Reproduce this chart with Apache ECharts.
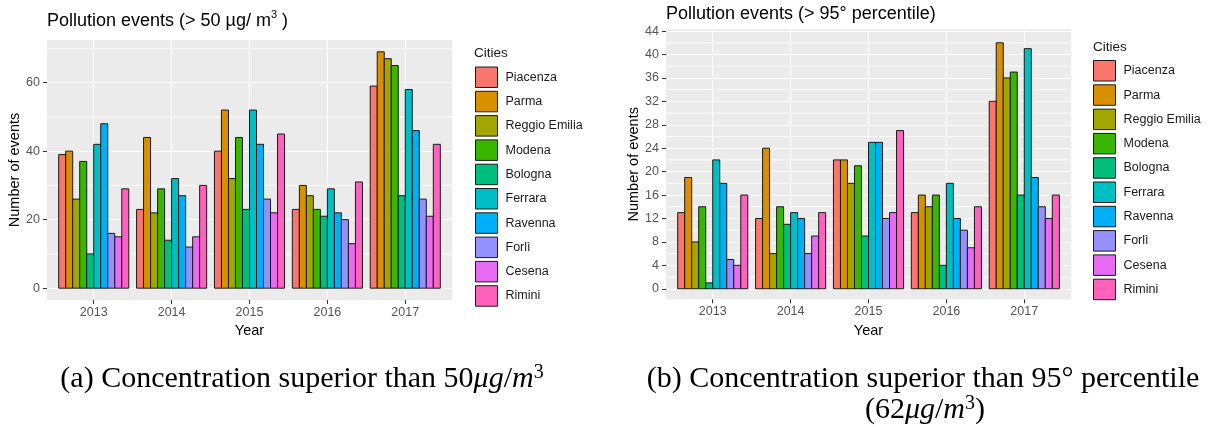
<!DOCTYPE html>
<html>
<head>
<meta charset="utf-8">
<script src="https://cdn.jsdelivr.net/npm/echarts@6/dist/echarts.min.js"></script>
<style>
  html, body { margin: 0; padding: 0; background: #ffffff; }
  #chart { width: 1213px; height: 427px; }
</style>
</head>
<body>
<div id="chart"></div>
<script>
// Categories
const years = ['2013', '2014', '2015', '2016', '2017'];
const cities = ['Piacenza', 'Parma', 'Reggio Emilia', 'Modena', 'Bologna',
                'Ferrara', 'Ravenna', 'Forlì', 'Cesena', 'Rimini'];
const cityColors = ['#F8766D', '#D89000', '#A3A500', '#39B600', '#00BF7D',
                    '#00BFC4', '#00B0F6', '#9590FF', '#E76BF3', '#FF62BC'];

// Days above 50 µg/m3, per city, 2013..2017
const piacenza50 = [39, 23, 40, 23, 59];
const parma50    = [40, 44, 52, 30, 69];
const reggio50   = [26, 22, 32, 27, 67];
const modena50   = [37, 29, 44, 23, 65];
const bologna50  = [10, 14, 23, 21, 27];
const ferrara50  = [42, 32, 52, 29, 58];
const ravenna50  = [48, 27, 42, 22, 46];
const forli50    = [16, 12, 26, 20, 26];
const cesena50   = [15, 15, 22, 13, 21];
const rimini50   = [29, 30, 45, 31, 42];

// Days above the 95th percentile (62 µg/m3), per city, 2013..2017
const piacenzaP95 = [13, 12, 22, 13, 32];
const parmaP95    = [19, 24, 22, 16, 42];
const reggioP95   = [8, 6, 18, 14, 36];
const modenaP95   = [14, 14, 21, 16, 37];
const bolognaP95  = [1, 11, 9, 4, 16];
const ferraraP95  = [22, 13, 25, 18, 41];
const ravennaP95  = [18, 12, 25, 12, 19];
const forliP95    = [5, 6, 12, 10, 14];
const cesenaP95   = [4, 9, 13, 7, 12];
const riminiP95   = [16, 13, 27, 14, 16];

// Tick values
const yTicks50 = [0, 20, 40, 60];
const yMinor50 = [10, 30, 50, 70];
const yTicksP95 = [0, 4, 8, 12, 16, 20, 24, 28, 32, 36, 40, 44];
const yMinorP95 = [2, 6, 10, 14, 18, 22, 26, 30, 34, 38, 42];

const series50 = [piacenza50, parma50, reggio50, modena50, bologna50,
                  ferrara50, ravenna50, forli50, cesena50, rimini50];
const seriesP95 = [piacenzaP95, parmaP95, reggioP95, modenaP95, bolognaP95,
                   ferraraP95, ravennaP95, forliP95, cesenaP95, riminiP95];

const SANS = "'Liberation Sans', Arial, sans-serif";
const SERIF = "'Liberation Serif', 'Times New Roman', serif";
const yearIndex = years.map((_, i) => i);

// Dodged bar: each year slot is 0.9 wide, split evenly among the cities
function dodgedBar(cityIdx) {
  return function (params, api) {
    const slot = 0.9 / cities.length;
    const center = api.value(0) - 0.45 + slot * (cityIdx + 0.5);
    const p0 = api.coord([center - slot / 2, api.value(1)]);
    const p1 = api.coord([center + slot / 2, 0]);
    return {
      type: 'rect',
      shape: { x: p0[0], y: p0[1], width: p1[0] - p0[0], height: p1[1] - p0[1] },
      style: api.style({ stroke: '#1a1a1a', lineWidth: 1 })
    };
  };
}

// Thin horizontal guide across the whole panel at a minor break
function minorGridLine(params, api) {
  const cs = params.coordSys;
  const y = api.coord([0, api.value(0)])[1];
  return {
    type: 'line',
    shape: { x1: cs.x, y1: y, x2: cs.x + cs.width, y2: y },
    style: { stroke: '#ffffff', lineWidth: 0.8 }
  };
}

function xAxisFor(gridIndex) {
  return {
    type: 'value', gridIndex: gridIndex, min: -0.6, max: 4.6, position: 'bottom',
    axisLine: { show: false, onZero: false },
    axisTick: { show: true, customValues: yearIndex, length: 4, lineStyle: { color: '#333333', width: 1 } },
    axisLabel: { customValues: yearIndex, formatter: v => years[Math.round(v)],
                 color: '#555555', fontSize: 12.5, fontFamily: SANS, margin: 6 },
    splitLine: { show: true, lineStyle: { color: '#ffffff', width: 1.1 } },
    name: 'Year', nameLocation: 'middle', nameGap: 22,
    nameTextStyle: { fontSize: 14.5, color: '#000000', fontFamily: SANS }
  };
}

function yAxisFor(gridIndex, min, max, majors) {
  return {
    type: 'value', gridIndex: gridIndex, min: min, max: max, position: 'left',
    axisLine: { show: false, onZero: false },
    axisTick: { show: true, customValues: majors, length: 4, lineStyle: { color: '#333333', width: 1 } },
    axisLabel: { customValues: majors, color: '#555555', fontSize: 12.5, fontFamily: SANS, margin: 7 },
    splitLine: { show: true, lineStyle: { color: '#ffffff', width: 1.1 } },
    name: 'Number of events', nameLocation: 'middle', nameGap: 24,
    nameTextStyle: { fontSize: 14.5, color: '#000000', fontFamily: SANS }
  };
}

function seriesFor(gridIndex, table, minors) {
  const guides = {
    type: 'custom',
    name: 'minor-grid-' + gridIndex,
    xAxisIndex: gridIndex,
    yAxisIndex: gridIndex,
    data: minors.map(v => [v]),
    encode: { y: 0 },
    renderItem: minorGridLine,
    silent: true,
    z: 1
  };
  const bars = cities.map((city, c) => ({
    type: 'custom',
    name: city,
    xAxisIndex: gridIndex,
    yAxisIndex: gridIndex,
    data: table[c].map((v, i) => [i, v]),
    encode: { x: 0, y: 1 },
    renderItem: dodgedBar(c),
    itemStyle: { color: cityColors[c], borderColor: '#1a1a1a', borderWidth: 1 },
    z: 3
  }));
  return [guides, ...bars];
}

function legendAt(left, top) {
  return {
    orient: 'vertical', left: left, top: top, padding: 0,
    data: cities, icon: 'rect',
    itemWidth: 22, itemHeight: 20.5, itemGap: 2.8,
    selectedMode: false,
    itemStyle: { borderColor: '#1a1a1a', borderWidth: 1 },
    textStyle: { fontSize: 12.5, color: '#1a1a1a', fontFamily: SANS, padding: [0, 0, 0, 3] }
  };
}

const titleStyle = {
  fontSize: 18, fontWeight: 'normal', color: '#000000', fontFamily: SANS, lineHeight: 24,
  rich: { sup: { fontSize: 11, fontFamily: SANS, color: '#000000', verticalAlign: 'top', lineHeight: 24 } }
};
const legendTitleStyle = { fontSize: 13.5, fontWeight: 'normal', color: '#1a1a1a', fontFamily: SANS, lineHeight: 16 };

const capRich = {
  it: { fontSize: 30, fontFamily: SERIF, fontStyle: 'italic', fill: '#000000', lineHeight: 32 },
  sup: { fontSize: 20, fontFamily: SERIF, fill: '#000000', verticalAlign: 'top', lineHeight: 32 }
};
function caption(x, y, text) {
  return {
    type: 'text', x: x, y: y,
    style: { text: text, fontSize: 30, fontFamily: SERIF, fill: '#000000',
             align: 'center', verticalAlign: 'middle', lineHeight: 32, rich: capRich }
  };
}

const option = {
  animation: false,
  backgroundColor: '#ffffff',
  title: [
    { text: 'Pollution events (> 50 µg/ m{sup|3} )', left: 47, top: 9, padding: 0, textStyle: titleStyle },
    { text: 'Pollution events (> 95° percentile)', left: 666, top: 2, padding: 0, textStyle: titleStyle },
    { text: 'Cities', left: 474, top: 45, padding: 0, textStyle: legendTitleStyle },
    { text: 'Cities', left: 1093, top: 39, padding: 0, textStyle: legendTitleStyle }
  ],
  legend: [legendAt(475, 66.5), legendAt(1093, 60)],
  grid: [
    { left: 47, top: 40, width: 405, height: 260, show: true, backgroundColor: '#EBEBEB', borderWidth: 0 },
    { left: 666, top: 29.3, width: 405, height: 270, show: true, backgroundColor: '#EBEBEB', borderWidth: 0 }
  ],
  xAxis: [xAxisFor(0), xAxisFor(1)],
  yAxis: [
    yAxisFor(0, -3.45, 72.45, yTicks50),
    yAxisFor(1, -1.8, 44.3, yTicksP95)
  ],
  series: [
    ...seriesFor(0, series50, yMinor50),
    ...seriesFor(1, seriesP95, yMinorP95)
  ],
  graphic: [
    caption(302, 379, '(a) Concentration superior than 50{it|μg}/{it|m}{sup|3}'),
    caption(923, 379, '(b) Concentration superior than 95° percentile'),
    caption(925, 410, '(62{it|μg}/{it|m}{sup|3})')
  ]
};

const chart = echarts.init(document.getElementById('chart'), null, { renderer: 'canvas' });
chart.setOption(option);
</script>
</body>
</html>
